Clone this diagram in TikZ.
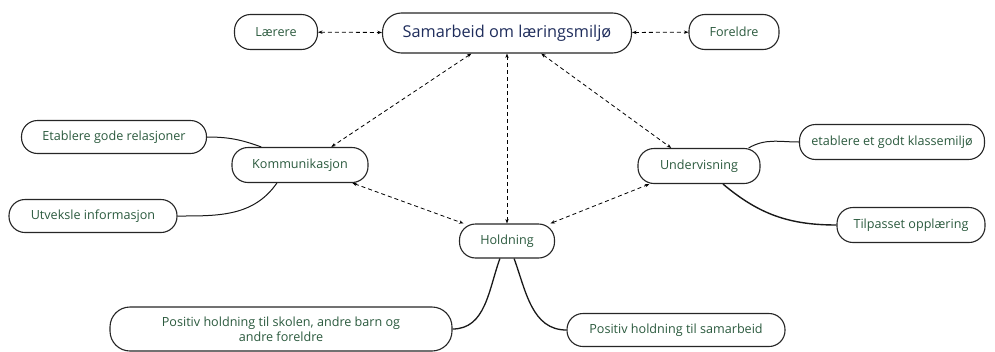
\documentclass[tikz,border=0pt]{standalone}
\usepackage{fontspec}
\setmainfont{Open Sans}
\usepackage{tikz}
\usetikzlibrary{arrows.meta}
\usepackage{xcolor}
\definecolor{leafgreen}{HTML}{2B5A3E}
\definecolor{mainblue}{HTML}{1F2D5C}

\begin{document}
\begin{tikzpicture}[x=1pt,y=-1pt,
  box/.style={draw=black!85,line width=1.1pt,fill=white,rounded corners=16pt,
    minimum height=35pt,inner sep=2pt,text=leafgreen,font=\fontsize{12.6}{15}\selectfont},
  branch/.style={line width=1pt,black!90},
  link/.style={dashed,dash pattern=on 4pt off 3pt,line width=0.8pt,{Stealth[length=4.5pt]}-{Stealth[length=4.5pt]}}]
\useasboundingbox (0,0) rectangle (995,351);
\node[box,minimum width=249pt,minimum height=40pt,rounded corners=19pt,text=mainblue,font=\fontsize{16.3}{19}\selectfont] (main) at (507,33) {Samarbeid om læringsmiljø};
\node[box,minimum width=83pt] (laerere) at (276,32) {Lærere};
\node[box,minimum width=90pt] (foreldre) at (734,32) {Foreldre};
\node[box,minimum width=136pt] (komm) at (300,165) {Kommunikasjon};
\node[box,minimum width=185pt,minimum height=33pt] (relasjoner) at (114,137) {Etablere gode relasjoner};
\node[box,minimum width=168pt,minimum height=33pt] (informasjon) at (93,216) {Utveksle informasjon};
\node[box,minimum width=122pt] (underv) at (699,166) {Undervisning};
\node[box,minimum width=185pt] (klassemiljo) at (892,142) {etablere et godt klassemiljø};
\node[box,minimum width=148pt] (tilpasset) at (911,225) {Tilpasset opplæring};
\node[box,minimum width=95pt,minimum height=34pt] (holdning) at (507,241) {Holdning};
\node[box,minimum width=342pt,minimum height=44pt,rounded corners=20pt,align=center] (skolen) at (281,329) {Positiv holdning til skolen, andre barn og\\andre foreldre};
\node[box,minimum width=218pt,minimum height=33pt] (samarbeid) at (676,330) {Positiv holdning til samarbeid};

\draw[link] (laerere) -- (main);
\draw[link] (main) -- (foreldre);
\draw[link] (main.210) -- (komm.30);
\draw[link] (main.south) -- (holdning.north);
\draw[link] (main.329) -- (underv.147);
\draw[link] (komm.341) -- (holdning.158);
\draw[link] (holdning.22) -- (underv.200);

\draw[branch] (relasjoner.east) to[out=0,in=160] (komm.155);
\draw[branch] (informasjon.east) to[out=0,in=235] (komm.218);
\draw[branch] (underv.20) to[out=30,in=180] (klassemiljo.west);
\draw[branch,line width=1.4pt] (underv.323) to[out=-40,in=180] (tilpasset.west);
\draw[branch,line width=1.3pt] (holdning.248) to[out=250,in=0] (skolen.east);
\draw[branch,line width=1.3pt] (holdning.292) to[out=290,in=180] (samarbeid.west);

\end{tikzpicture}
\end{document}
